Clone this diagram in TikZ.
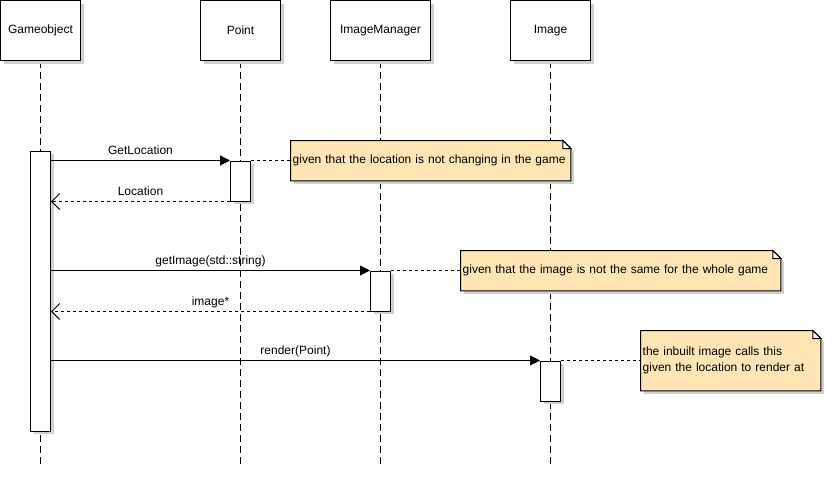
\documentclass[tikz,border=0pt]{standalone}
\usepackage{fontspec}
\setmainfont{Liberation Sans}
\usetikzlibrary{arrows.meta}
\pgfdeclarelayer{back}
\pgfdeclarelayer{mid}
\pgfsetlayers{back,mid,main}
\definecolor{notefill}{RGB}{255,229,180}
\definecolor{shadowc}{RGB}{208,208,208}
\begin{document}
\begin{tikzpicture}[x=1pt,y=-1pt, font=\fontsize{12}{16}\selectfont,
  shadowed/.style={preaction={draw=none, fill=shadowc, transform canvas={shift={(3pt,-3pt)}}}},
  head/.style={draw, fill=white, line width=1pt, minimum width=80pt, minimum height=60pt, inner sep=0pt, shadowed},
  act/.style={draw, fill=white, line width=1pt, minimum width=20pt, inner sep=0pt, anchor=north, shadowed},
  life/.style={line width=1pt, dash pattern=on 7pt off 4pt},
  call/.style={line width=1pt, -{Triangle[length=10pt,width=10pt]}},
  ret/.style={line width=1pt, dash pattern=on 3pt off 3pt, -{Straight Barb[length=8pt,width=16pt]}},
  link/.style={line width=1pt, dash pattern=on 3pt off 3pt},
  lbl/.style={pos=0.5, anchor=base, yshift=6.5pt, inner sep=0pt},
  notetext/.style={align=left, inner xsep=2pt, inner ysep=0pt, anchor=north west},
  ]
\path[use as bounding box] (0,0) rectangle (825,485);
\coordinate (bottom) at (0,465);

% lifeline heads
\node[head] (go) at (40.5,30.5) {Gameobject};
\node[head] (pt) at (240.5,30.5) {Point};
\node[head, minimum width=100pt] (im) at (380.5,30.5) {ImageManager};
\node[head] (img) at (550.5,30.5) {Image};

% lifelines
\begin{pgfonlayer}{back}
\foreach \h in {go,pt,im,img} {
  \draw[life] (\h.south) -- (\h.south |- bottom);
}
\end{pgfonlayer}

% activations
\node[act, minimum height=280pt] (goa) at (40.5,150.5) {};
\node[act, minimum height=40pt] (pta) at (240.5,160.5) {};
\node[act, minimum height=40pt] (ima) at (380.5,270.5) {};
\node[act, minimum height=40pt] (imga) at (550.5,360.5) {};

% notes
\node[notetext, text width=276pt, minimum height=40pt] (n1) at (290.5,140.5) {given that the location is not changing in the game};
\node[notetext, text width=316pt, minimum height=40pt] (n2) at (460.5,250.5) {given that the image is not the same for the whole game};
\node[notetext, text width=176pt, minimum height=60pt] (n3) at (640.5,330.5) {the inbuilt image calls this\\given the location to render at};

\begin{pgfonlayer}{mid}
\foreach \n in {n1,n2,n3} {
  \fill[shadowc, transform canvas={shift={(3pt,-3pt)}}] (\n.north west) -- ([xshift=-8pt]\n.north east) -- ([yshift=-8pt]\n.north east) -- (\n.south east) -- (\n.south west) -- cycle;
  \draw[fill=notefill, line width=1pt] (\n.north west) -- ([xshift=-8pt]\n.north east) -- ([yshift=-8pt]\n.north east) -- (\n.south east) -- (\n.south west) -- cycle;
  \draw[fill=white, line width=1pt] ([xshift=-8pt]\n.north east) -- ([xshift=-8pt,yshift=-8pt]\n.north east) -- ([yshift=-8pt]\n.north east) -- cycle;
}
\end{pgfonlayer}

% messages
\draw[call] (goa.east |- pta.north west) -- (pta.north west) node[lbl] {GetLocation};
\draw[ret] (pta.south west) -- (goa.east |- pta.south west) node[lbl] {Location};
\draw[call] (goa.east |- ima.north west) -- (ima.north west) node[lbl] {getImage(std::string)};
\draw[ret] (ima.south west) -- (goa.east |- ima.south west) node[lbl] {image*};
\draw[call] (goa.east |- imga.north west) -- (imga.north west) node[lbl] {render(Point)};

% note connectors
\draw[link] (pta.north east) -- (n1.west |- pta.north east);
\draw[link] (ima.north east) -- (n2.west |- ima.north east);
\draw[link] (imga.north east) -- (n3.west |- imga.north east);
\end{tikzpicture}
\end{document}
